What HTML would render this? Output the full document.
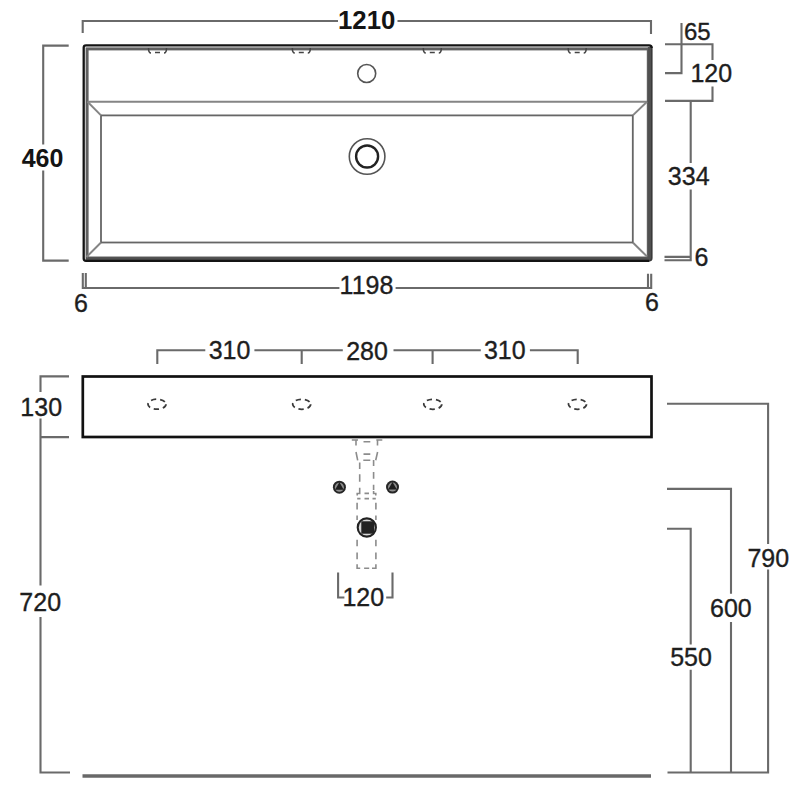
<!DOCTYPE html>
<html><head><meta charset="utf-8"><style>
html,body{margin:0;padding:0;background:#fff;width:800px;height:800px;overflow:hidden}
svg{position:absolute;left:0;top:0}
text{font-family:"Liberation Sans",sans-serif;font-size:25px;fill:#1e1e1e;stroke:#1e1e1e;stroke-width:0.35;text-anchor:middle}
.b{font-weight:bold;fill:#141414;stroke:none}
.d{stroke:#6a6a6a;stroke-width:2.1;fill:none}
.g{stroke:#858585;stroke-width:2;fill:none}
.dash{stroke:#8a8a8a;stroke-width:1.4;fill:none;stroke-dasharray:5 3}
</style></head><body>
<svg width="800" height="800" viewBox="0 0 800 800">
<!-- ===== TOP VIEW ===== -->
<!-- 1210 dim -->
<path class="d" d="M82.7 33 V21 H338 M397.5 21 H651 V34"/>
<text class="b" x="366.7" y="28.5" style="font-size:25.8px">1210</text>
<!-- 460 dim -->
<path class="d" d="M68.7 45.6 H43.2 V144.5 M43.2 170.5 V260.6 H68.7"/>
<text class="b" x="42.5" y="167">460</text>
<!-- frame -->
<rect x="87.1" y="48.9" width="561.2" height="209.1" fill="none" stroke="#606060" stroke-width="3"/>
<path d="M650 47 V260 M86 259.3 H650" fill="none" stroke="#505050" stroke-width="4.2"/>
<path d="M649 260.8 H86 Q83.7 260.8 83.7 258.5 V47.6 Q83.7 45.3 86 45.3 H649 Q651.8 45.3 651.8 48" fill="none" stroke="#141414" stroke-width="2.3"/>
<path d="M651.8 48 V258 Q651.8 260.8 649 260.8" fill="none" stroke="#3a3a3a" stroke-width="1.5"/>
<!-- ledge + bowl -->
<path class="g" d="M87.5 101.8 H647"/>
<rect x="101" y="115.4" width="531.8" height="127.1" fill="none" stroke="#666" stroke-width="1.8"/>
<path class="g" d="M87.5 101.8 L101 115.4 M647 101.8 L632.8 115.4 M101 242.5 L86.5 257 M632.8 242.5 L647 256.5"/>
<!-- tap hole -->
<circle cx="366.7" cy="73.5" r="9" fill="none" stroke="#555" stroke-width="1.6"/>
<!-- drain -->
<circle cx="367.1" cy="156.5" r="17.8" fill="none" stroke="#555" stroke-width="1.6"/>
<circle cx="367.1" cy="156.5" r="11" fill="none" stroke="#222" stroke-width="2.4"/>
<!-- overflow marks -->
<g stroke="#444" stroke-width="1.5" fill="none">
<path d="M148.5 48 Q148.5 53 151 53 M166.5 48 Q166.5 53 164 53 M155 52.5 H160"/>
<path d="M292.3 48 Q292.3 53 294.8 53 M310.3 48 Q310.3 53 307.8 53 M298.8 52.5 H303.8"/>
<path d="M423.3 48 Q423.3 53 425.8 53 M441.3 48 Q441.3 53 438.8 53 M429.8 52.5 H434.8"/>
<path d="M568.2 48 Q568.2 53 570.7 53 M586.2 48 Q586.2 53 583.7 53 M574.7 52.5 H579.7"/>
</g>
<!-- 65 / 120 / 334 / 6 dims right -->
<path class="d" d="M681.5 23 V73.1 H665"/>
<text x="697.3" y="39.5" style="font-size:24px">65</text>
<path class="d" d="M665 44.3 H712.5 V60 M712.5 86.5 V100.9 H665"/>
<text x="711.3" y="82">120</text>
<path class="d" d="M690.7 100.9 V163 M690.7 189.4 V260.25 H664.5 M664.5 256.9 H690.7"/>
<text x="688.7" y="185">334</text>
<text x="701.5" y="265.5">6</text>
<!-- 1198 dim -->
<path class="d" d="M82.8 273 V288 H339.4 M395.6 288 H651.2 V273.7 M85.8 273 V288 M648 273.7 V288"/>
<text x="366.5" y="294.4">1198</text>
<text x="81" y="311.5">6</text>
<text x="652" y="311">6</text>

<!-- ===== SIDE VIEW ===== -->
<path class="d" d="M157.3 364 V350.3 H205.3 M254.4 350.3 H342.8 M393.5 350.3 H480.8 M529.9 350.3 H577.7 V364 M301.7 350.3 V364 M432.6 350.3 V364"/>
<text x="229.5" y="359.3">310</text>
<text x="367" y="359.5">280</text>
<text x="504.8" y="359.3">310</text>
<!-- 130 / 720 -->
<path class="d" d="M69 376.4 H40.5 V392 M40.5 418.5 V585.5 M40.5 617 V772.5 H70 M40.5 437.1 H69"/>
<text x="41.2" y="416">130</text>
<text x="40.2" y="611">720</text>
<!-- side rect -->
<rect x="82.8" y="376.5" width="568.7" height="60.5" fill="none" stroke="#111" stroke-width="2.7"/>
<!-- dashed ellipses -->
<g fill="none" stroke="#3a3a3a" stroke-width="1.8" stroke-dasharray="5.2 3.9">
<ellipse cx="157" cy="404.2" rx="9" ry="5"/>
<ellipse cx="301.7" cy="404.3" rx="9" ry="5"/>
<ellipse cx="432.8" cy="404.3" rx="9" ry="5"/>
<ellipse cx="577.5" cy="404.3" rx="9" ry="5"/>
</g>
<!-- pipe -->
<g fill="none" stroke="#8c8c8c" stroke-width="1.6">
<path d="M351.8 440 H358 M356 440 V445.5 M382.3 440 H376.3 M377.5 440 V445.5 M363.5 441.8 H370.3"/>
<path d="M356 452 L357.7 460.3 M377.6 452 L375.7 460.3 M363.5 454.1 H370.3 M363.3 460.3 H370.3"/>
<path d="M359.7 462.5 V469 M359.7 474.3 V481.7 M359.7 487.7 V493.5 H357.2 V495.5 M373.6 460 V466 M373.6 472 V478.7 M373.6 484.7 V490 M373.6 491 V493.5 H375.8 V495.5"/>
<path d="M364.5 493.4 H369 M357.2 498.6 H360.5 M364.5 498.6 H369 M372.5 498.6 H375.8"/>
<path d="M357.1 502.7 V509.5 M357.1 515.5 V520 M375.9 502.7 V509.5 M375.9 515.5 V520"/>
<path d="M357.1 539.8 V546.3 M357.1 552.5 V559.3 M357.1 564.3 V568.2 H360.2 M364.1 568.2 H369.2 M372 568.2 H375.9 V564.3 M375.9 559.3 V552.5 M375.9 546.3 V539.8"/>
</g>
<!-- valves -->
<g>
<circle cx="339.4" cy="487.2" r="6.5" fill="#262626"/>
<circle cx="339.4" cy="487.2" r="4.5" fill="#8d8d8d"/>
<path d="M339.40 482.20 L335.07 489.70 L343.73 489.70 Z" fill="#1e1e1e"/>
<circle cx="392.5" cy="487.1" r="6.5" fill="#262626"/>
<circle cx="392.5" cy="487.1" r="4.5" fill="#8d8d8d"/>
<path d="M392.50 482.10 L388.17 489.60 L396.83 489.60 Z" fill="#1e1e1e"/>
</g>
<!-- drain -->
<circle cx="366.8" cy="527.5" r="9.1" fill="#d8d8d8" stroke="#222" stroke-width="2.1"/>
<rect x="361.3" y="521.3" width="12.9" height="12.4" fill="#222"/>
<!-- 120 bracket -->
<path class="d" d="M338.1 572.5 V597.5 H344.4 M386.2 597.5 H392.5 V572.5"/>
<text x="363.3" y="605.5">120</text>
<!-- right dims -->
<path class="d" d="M667 403.8 H768.1 V544 M768.1 569.4 V772.5 H667.5 M667 488.9 H731 V593.8 M731 622 V772.5 M667 528.8 H690.7 V644.4 M690.7 669.8 V772.5"/>
<text x="768.3" y="566.5">790</text>
<text x="730.9" y="617">600</text>
<text x="691" y="665.5">550</text>
<!-- floor -->
<path d="M82.5 776 H651" stroke="#686868" stroke-width="3.3" fill="none"/>
</svg>
</body></html>
